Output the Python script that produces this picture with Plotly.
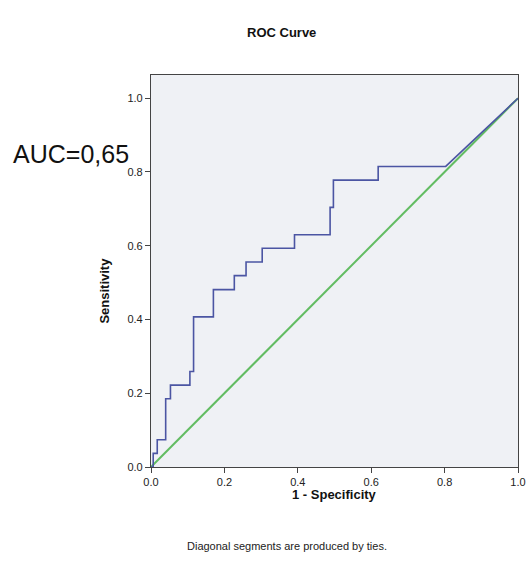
import plotly.graph_objects as go

# ROC curve vertices (1 - specificity, sensitivity)
fpr = [0.0, 0.006, 0.006, 0.017, 0.017, 0.040, 0.040, 0.053, 0.053, 0.106, 0.106,
       0.116, 0.116, 0.170, 0.170, 0.227, 0.227, 0.259, 0.259, 0.303, 0.303,
       0.391, 0.391, 0.488, 0.488, 0.497, 0.497, 0.619, 0.619, 0.803, 1.0]
tpr = [0.0, 0.0, 0.037, 0.037, 0.074, 0.074, 0.185, 0.185, 0.222, 0.222, 0.259,
       0.259, 0.407, 0.407, 0.481, 0.481, 0.519, 0.519, 0.556, 0.556, 0.593,
       0.593, 0.630, 0.630, 0.704, 0.704, 0.778, 0.778, 0.815, 0.815, 1.0]
ref_x = [0.0, 1.0]
ref_y = [0.0, 1.0]
ticks = [0.0, 0.2, 0.4, 0.6, 0.8, 1.0]
tick_text = ["0.0", "0.2", "0.4", "0.6", "0.8", "1.0"]

FONT = "Arial, Liberation Sans, sans-serif"

fig = go.Figure()
fig.add_trace(go.Scatter(x=ref_x, y=ref_y, mode="lines",
                         line=dict(color="#62BC62", width=2), hoverinfo="skip"))
fig.add_trace(go.Scatter(x=fpr, y=tpr, mode="lines",
                         line=dict(color="#4B55A3", width=1.6)))

axis_common = dict(
    showgrid=False, zeroline=False, showline=True, linecolor="#444444", linewidth=1.2,
    mirror=True, ticks="outside", ticklen=5, tickwidth=1.2, tickcolor="#444444",
    tickvals=ticks, ticktext=tick_text, automargin=False,
    tickfont=dict(family=FONT, size=11, color="#222222"),
)

fig.update_layout(
    width=527, height=571,
    margin=dict(l=151, r=9, t=75, b=104, autoexpand=False),
    paper_bgcolor="white", plot_bgcolor="#EFF1F5",
    showlegend=False,
    xaxis=dict(range=[0, 1.0], **axis_common),
    yaxis=dict(range=[0, 1.063], **axis_common),
    annotations=[
        dict(text="<b>ROC Curve</b>", xref="paper", yref="paper", x=0.355, y=1.0,
             yshift=43, yanchor="middle", showarrow=False,
             font=dict(family=FONT, size=13, color="#111111")),
        dict(text="<b>Sensitivity</b>", xref="paper", yref="paper", x=0, xshift=-46,
             xanchor="center", y=0.45, yanchor="middle", textangle=-90, showarrow=False,
             font=dict(family=FONT, size=13, color="#111111")),
        dict(text="<b>1 - Specificity</b>", xref="paper", yref="paper", x=0.5, y=0,
             yshift=-27, yanchor="middle", showarrow=False,
             font=dict(family=FONT, size=13, color="#111111")),
        dict(text="Diagonal segments are produced by ties.", xref="paper", yref="paper",
             x=0.37, y=0, yshift=-79, yanchor="middle", showarrow=False,
             font=dict(family=FONT, size=11, color="#222222")),
        dict(text="AUC=0,65", xref="paper", yref="paper", x=0, xshift=-140, xanchor="left",
             y=0.799, yanchor="middle", showarrow=False,
             font=dict(family=FONT, size=25, color="#111111")),
    ],
)

fig.write_html(
    "out.html",
    config={"displayModeBar": False},
    post_script="document.body.style.margin='0';document.body.style.overflow='hidden';",
)
